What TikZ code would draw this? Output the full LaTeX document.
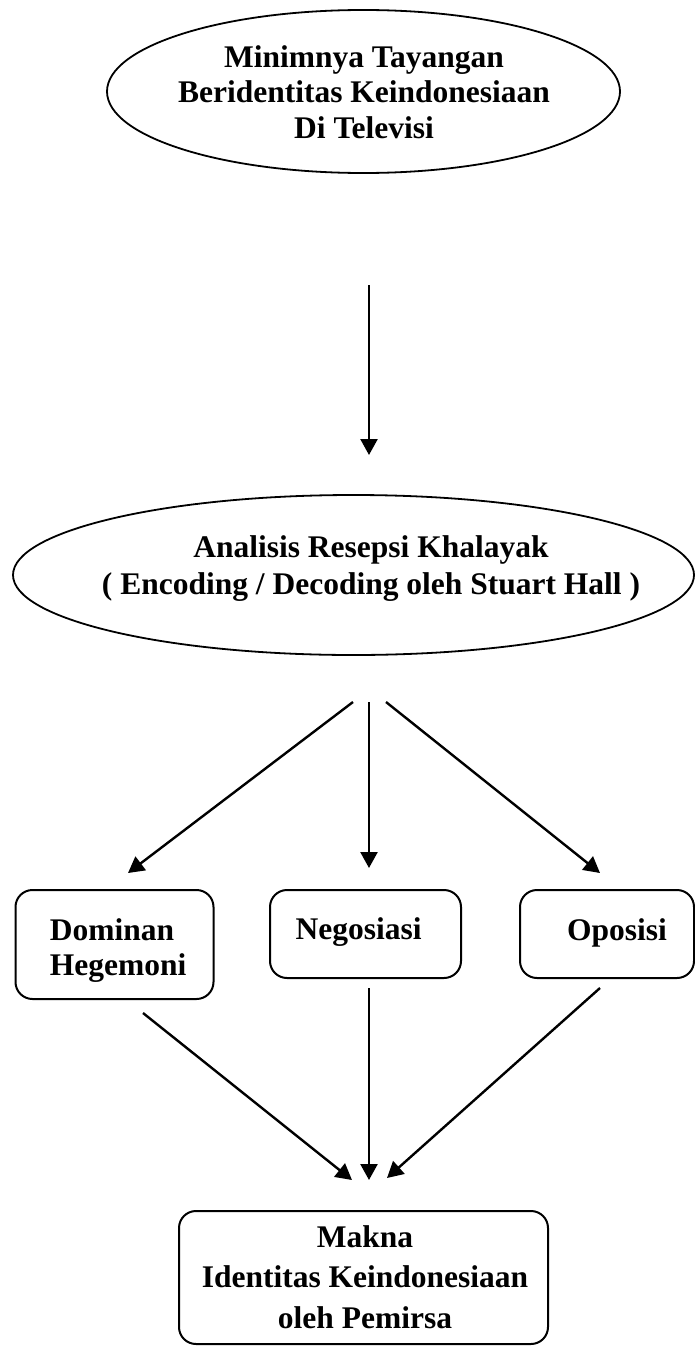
\documentclass[tikz,border=0pt]{standalone}
\usepackage{fontspec}
\setmainfont{Liberation Serif}
\usetikzlibrary{shapes.geometric,arrows.meta}
\begin{document}
\begin{tikzpicture}[x=1pt,y=-1pt,
  oval/.style={draw,line width=1.8pt,ellipse,inner sep=0pt},
  rbox/.style={draw,line width=2pt,rounded corners=17pt,inner sep=0pt},
  lbl/.style={font=\fontsize{31.5}{35.5}\selectfont\bfseries,align=center,inner sep=0pt},
  arr/.style={line width=2.4pt,-{Triangle[length=16pt,width=17pt]}}]
\useasboundingbox (0,0) rectangle (695,1346);
% top ellipse
\node[oval,minimum width=513pt,minimum height=163pt] (e1) at (363.5,91.5) {};
\node[lbl] (t1) at (364,91.8) {Minimnya Tayangan\\Beridentitas Keindonesiaan\\Di Televisi};
% second ellipse
\node[oval,minimum width=681pt,minimum height=160pt] (e2) at (353.5,575) {};
\node[lbl,font=\fontsize{31.5}{37}\selectfont\bfseries] (t2) at (371,569) {Analisis Resepsi Khalayak\\( Encoding / Decoding oleh Stuart Hall )};
% boxes
\node[rbox,minimum width=198pt,minimum height=109pt] (b1) at (114.5,944.5) {};
\node[lbl,align=left,anchor=west,font=\fontsize{31.5}{35.3}\selectfont\bfseries] (tb1) at (49.6,950.8) {Dominan\\Hegemoni};
\node[rbox,minimum width=191pt,minimum height=88pt] (b2) at (365.5,934) {};
\node[lbl] (tb2) at (358.6,932.5) {Negosiasi};
\node[rbox,minimum width=174pt,minimum height=88pt] (b3) at (607,934) {};
\node[lbl] (tb3) at (617,932.5) {Oposisi};
% bottom box
\node[rbox,minimum width=369pt,minimum height=133pt] (b4) at (363.5,1277.5) {};
\node[lbl,font=\fontsize{31.5}{40.5}\selectfont\bfseries] (tb4) at (365,1276.8) {Makna\\Identitas Keindonesiaan\\oleh Pemirsa};
% connector end points
\coordinate (a0s) at (369,285);
\coordinate (a0e) at (369,455);
\coordinate (s1) at (353,702);
\coordinate (s2) at (369,702);
\coordinate (s3) at (386,702);
\coordinate (d1) at (128,873);
\coordinate (d2) at (369,868);
\coordinate (d3) at (600,873);
\coordinate (u1) at (143,1013);
\coordinate (u2) at (369,988);
\coordinate (u3) at (600,988);
\coordinate (m1) at (352,1180);
\coordinate (m2) at (369,1180);
\coordinate (m3) at (387,1178);
\draw[arr] (a0s) -- (a0e);
\draw[arr] (s1) -- (d1);
\draw[arr] (s2) -- (d2);
\draw[arr] (s3) -- (d3);
\draw[arr] (u1) -- (m1);
\draw[arr] (u2) -- (m2);
\draw[arr] (u3) -- (m3);
\end{tikzpicture}
\end{document}
